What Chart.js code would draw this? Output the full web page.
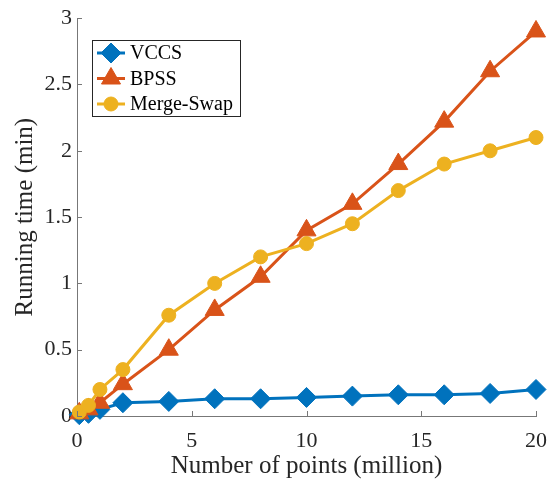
<!DOCTYPE html>
<html>
<head>
<meta charset="utf-8">
<script src="https://cdn.jsdelivr.net/npm/chart.js@4.4.0/dist/chart.umd.min.js"></script>
<style>
    html, body { margin: 0; padding: 0; background: #fff; }
    #wrap { width: 548px; height: 481px; }
</style>
</head>
<body>
<div id="wrap"><canvas id="runningTimeChart"></canvas></div>
<script>
// Data
const pointCounts = [0.1, 0.5, 1, 2, 4, 6, 8, 10, 12, 14, 16, 18, 20];
const vccsTimes = [0.01, 0.02, 0.05, 0.10, 0.11, 0.13, 0.13, 0.14, 0.15, 0.16, 0.16, 0.17, 0.20];
const bpssTimes = [0.02, 0.05, 0.10, 0.24, 0.50, 0.80, 1.05, 1.40, 1.60, 1.90, 2.22, 2.60, 2.90];
const mergeSwapTimes = [0.03, 0.08, 0.20, 0.35, 0.76, 1.00, 1.20, 1.30, 1.45, 1.70, 1.90, 2.00, 2.10];
const seriesNames = ['VCCS', 'BPSS', 'Merge-Swap'];
const xTickLabels = ['0', '5', '10', '15', '20'];
const yTickLabels = ['0', '0.5', '1', '1.5', '2', '2.5', '3'];

const axisColor = '#777777';
const textColor = '#262626';
const serif = "'Liberation Serif', 'Times New Roman', serif";

function toXY(xs, ys) {
    return xs.map((x, i) => ({ x: x, y: ys[i] }));
}

// MATLAB style ticks pointing into the plot
const inwardTicks = {
    id: 'inwardTicks',
    afterDatasetsDraw(chart) {
        const ctx = chart.ctx;
        const area = chart.chartArea;
        const len = 5;
        ctx.save();
        ctx.strokeStyle = axisColor;
        ctx.lineWidth = 1;
        ctx.beginPath();
        chart.scales.x.ticks.forEach(t => {
            const px = Math.round(chart.scales.x.getPixelForValue(t.value)) + 0.5;
            ctx.moveTo(px, area.bottom);
            ctx.lineTo(px, area.bottom - len);
        });
        chart.scales.y.ticks.forEach(t => {
            const py = Math.round(chart.scales.y.getPixelForValue(t.value)) + 0.5;
            ctx.moveTo(area.left, py);
            ctx.lineTo(area.left + len, py);
        });
        ctx.stroke();
        ctx.restore();
    }
};

// Legend with line + marker samples inside a box
const boxLegend = {
    id: 'boxLegend',
    afterDraw(chart) {
        const ctx = chart.ctx;
        const left = 92, top = 40, width = 148, height = 76;
        const rowH = 25.5, firstRow = 53;
        ctx.save();
        ctx.fillStyle = '#ffffff';
        ctx.fillRect(left, top, width, height);
        ctx.strokeStyle = '#262626';
        ctx.lineWidth = 1;
        ctx.strokeRect(left + 0.5, top + 0.5, width, height);
        chart.data.datasets.forEach((ds, i) => {
            const y = firstRow + i * rowH;
            ctx.strokeStyle = ds.borderColor;
            ctx.fillStyle = ds.borderColor;
            ctx.lineWidth = ds.borderWidth;
            ctx.beginPath();
            ctx.moveTo(97, y);
            ctx.lineTo(125, y);
            ctx.stroke();
            ctx.lineWidth = 1;
            Chart.helpers.drawPoint(ctx, {
                pointStyle: ds.pointStyle,
                radius: ds.pointRadius,
                rotation: 0,
                borderWidth: 1
            }, 111, y);
            ctx.fillStyle = '#000000';
            ctx.font = '20px ' + serif;
            ctx.textBaseline = 'middle';
            ctx.textAlign = 'left';
            ctx.fillText(ds.label, 130, y + 1);
        });
        ctx.restore();
    }
};

const ctxLine = document.getElementById('runningTimeChart');

new Chart(ctxLine, {
    type: 'line',
    data: {
        datasets: [{
            label: seriesNames[0],
            data: toXY(pointCounts, vccsTimes),
            borderColor: '#0072BD',
            backgroundColor: '#0072BD',
            pointBackgroundColor: '#0072BD',
            pointBorderColor: '#0072BD',
            pointStyle: 'rectRot',
            pointRadius: 10,
            borderWidth: 3,
            order: 3
        }, {
            label: seriesNames[1],
            data: toXY(pointCounts, bpssTimes),
            borderColor: '#D95319',
            backgroundColor: '#D95319',
            pointBackgroundColor: '#D95319',
            pointBorderColor: '#D95319',
            pointStyle: 'triangle',
            pointRadius: 11,
            borderWidth: 3,
            order: 2
        }, {
            label: seriesNames[2],
            data: toXY(pointCounts, mergeSwapTimes),
            borderColor: '#EDB120',
            backgroundColor: '#EDB120',
            pointBackgroundColor: '#EDB120',
            pointBorderColor: '#EDB120',
            pointStyle: 'circle',
            pointRadius: 7,
            borderWidth: 3,
            order: 1
        }]
    },
    options: {
        responsive: true,
        maintainAspectRatio: false,
        animation: false,
        clip: false,
        layout: {
            padding: { top: 18, right: 0, left: 0, bottom: 0 }
        },
        elements: {
            line: { tension: 0 },
            point: { pointBorderWidth: 1, hoverRadius: 10 }
        },
        scales: {
            x: {
                type: 'linear',
                min: 0,
                max: 20,
                afterFit: scale => {
                    scale.height = 65;
                    scale.paddingLeft = 0;
                    scale.paddingRight = 12;
                },
                grid: { display: false, drawTicks: false },
                border: { display: true, color: axisColor, width: 1 },
                ticks: {
                    stepSize: 5,
                    padding: 12,
                    color: textColor,
                    font: { family: serif, size: 22 },
                    callback: (value, index) => xTickLabels[index]
                },
                title: {
                    display: true,
                    text: 'Number of points (million)',
                    color: textColor,
                    font: { family: serif, size: 25 },
                    padding: { top: 0, bottom: 0 }
                }
            },
            y: {
                min: 0,
                max: 3,
                afterFit: scale => { scale.width = 77; },
                grid: { display: false, drawTicks: false },
                border: { display: true, color: axisColor, width: 1 },
                ticks: {
                    stepSize: 0.5,
                    padding: 5,
                    color: textColor,
                    font: { family: serif, size: 22 },
                    callback: (value, index) => yTickLabels[index]
                },
                title: {
                    display: true,
                    text: 'Running time (min)',
                    color: textColor,
                    font: { family: serif, size: 25 },
                    padding: { top: 10, bottom: 0 }
                }
            }
        },
        plugins: {
            legend: { display: false },
            tooltip: { enabled: false }
        }
    },
    plugins: [inwardTicks, boxLegend]
});
</script>
</body>
</html>
